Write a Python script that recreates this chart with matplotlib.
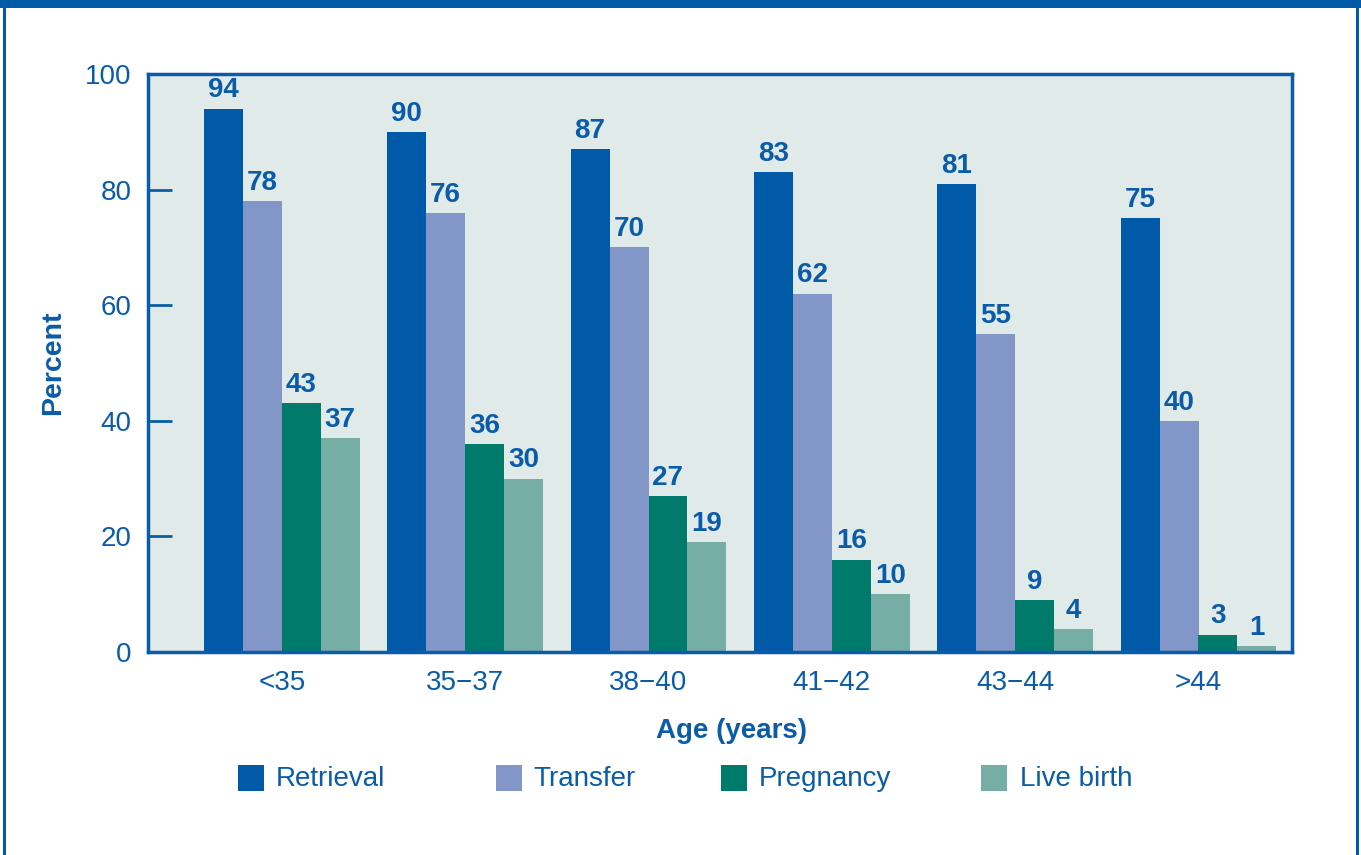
import matplotlib
matplotlib.use("Agg")
import matplotlib.pyplot as plt
from matplotlib.patches import Rectangle
import numpy as np

categories = ["<35", "35\u221237", "38\u221240", "41\u221242", "43\u221244", ">44"]
series_names = ["Retrieval", "Transfer", "Pregnancy", "Live birth"]
retrieval = [94, 90, 87, 83, 81, 75]
transfer = [78, 76, 70, 62, 55, 40]
pregnancy = [43, 36, 27, 16, 9, 3]
live_birth = [37, 30, 19, 10, 4, 1]
yticks = [0, 20, 40, 60, 80, 100]

colors = ["#005AA8", "#8296C8", "#007A6A", "#76AEA6"]
txt = "#0A5CA8"
bg = "#E0EAE9"

plt.rcParams['font.family'] = ['Liberation Sans', 'DejaVu Sans']

fig = plt.figure(figsize=(13.61, 8.55), dpi=100)
ax = fig.add_axes([148/1361, 1-652/855, (1292-148)/1361, (652-74)/855])
ax.set_facecolor(bg)

x = np.arange(len(categories))
w = 0.2125
data = [retrieval, transfer, pregnancy, live_birth]
for i, (vals, c) in enumerate(zip(data, colors)):
    pos = x + (i - 1.5) * w
    ax.bar(pos, vals, width=w, color=c, edgecolor='none', zorder=2)
    for p, v in zip(pos, vals):
        ax.text(p, v + 0.9, str(v), ha='center', va='bottom', fontsize=20,
                fontweight='bold', color=txt, zorder=3)

ax.set_xlim(-0.73, 5.51)
ax.set_ylim(0, 100)
ax.set_yticks(yticks)
ax.set_yticklabels([str(t) for t in yticks], fontsize=20, color=txt)
ax.set_xticks(x)
ax.set_xticklabels(categories, fontsize=20, color=txt)
ax.tick_params(axis='y', direction='in', length=17, width=2, color=txt, pad=12)
ax.tick_params(axis='x', length=0, pad=13)
for s in ax.spines.values():
    s.set_color(txt)
    s.set_linewidth(2.5)
ax.set_ylabel("Percent", fontsize=20.5, fontweight='bold', color=txt)
ax.yaxis.set_label_coords((66 - 148) / (1292 - 148), 0.5)
ax.set_xlabel("Age (years)", fontsize=20, fontweight='bold', color=txt)
ax.xaxis.set_label_coords((731 - 148) / (1292 - 148), -0.115)

# legend (manual placement)
sq_x = [238, 496, 721, 981]
tx_x = [276, 533, 759, 1020]
for sx, tx, c, n in zip(sq_x, tx_x, colors, series_names):
    fig.add_artist(Rectangle((sx/1361, 1-791/855), 26/1361, 26/855,
                             transform=fig.transFigure, color=c, lw=0))
    fig.text(tx/1361, 1-779/855, n, fontsize=20, color=txt, va='center', ha='left')

# frame border
fig.add_artist(Rectangle((0, 1-8/855), 1, 8/855, transform=fig.transFigure,
                         color="#005AA8", lw=0))
fig.add_artist(Rectangle((3/1361, 0), 2.5/1361, 1, transform=fig.transFigure,
                         color="#005AA8", lw=0))
fig.add_artist(Rectangle((1356/1361, 0), 2.5/1361, 1, transform=fig.transFigure,
                         color="#005AA8", lw=0))

fig.savefig("out.png", dpi=100)
